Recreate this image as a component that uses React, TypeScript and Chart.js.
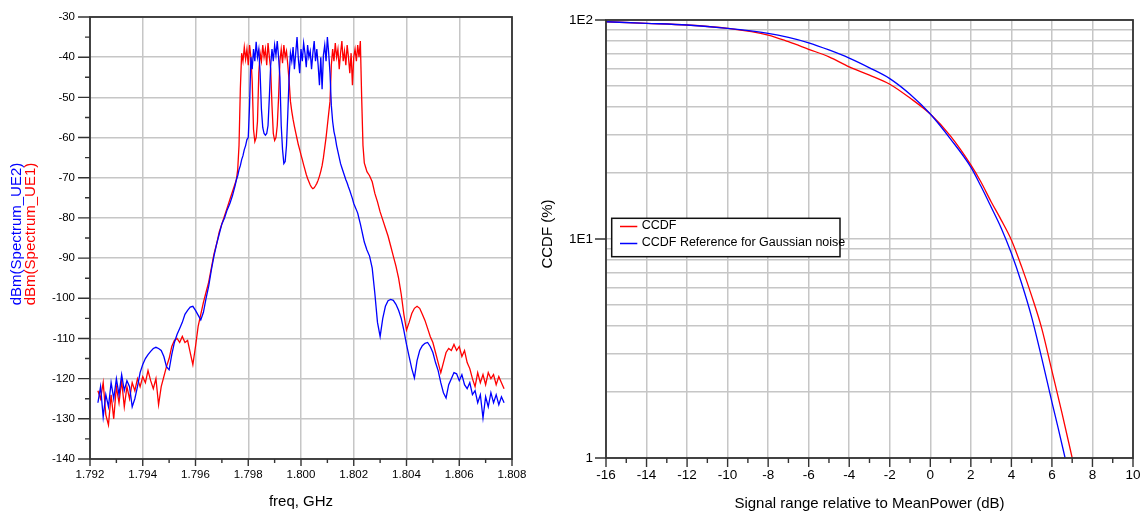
import React, { useEffect, useRef } from "react";
import { Chart, registerables } from "chart.js";

Chart.register(...registerables);

// ---------------- Left chart: spectrum (GHz, dBm) ----------------
const freqLowGHz = [
  1.7923, 1.7924, 1.7925, 1.7926, 1.7927, 1.7928, 1.7929, 1.793, 1.7931, 1.7932,
  1.7933, 1.7934, 1.7935, 1.7936, 1.7937, 1.7938, 1.7939, 1.794, 1.7941, 1.7942,
  1.7943, 1.7944, 1.7945, 1.7946, 1.7947, 1.7948, 1.7949, 1.795, 1.7951, 1.7952,
  1.7953, 1.7954, 1.7955, 1.7956, 1.7957, 1.7958, 1.7959, 1.796, 1.7961, 1.7962,
  1.7963, 1.7964, 1.7965, 1.7966, 1.7967, 1.7968, 1.7969, 1.797, 1.7971, 1.7972,
  1.7973, 1.7974,
];
const freqBandGHz = [
  1.7975, 1.79755, 1.7976, 1.79765, 1.7977, 1.79775, 1.7978, 1.79785, 1.7979, 1.79795,
  1.798, 1.79805, 1.7981, 1.79815, 1.7982, 1.79825, 1.7983, 1.79835, 1.7984, 1.79845,
  1.7985, 1.79855, 1.7986, 1.79865, 1.7987, 1.79875, 1.7988, 1.79885, 1.7989, 1.79895,
  1.799, 1.79905, 1.7991, 1.79915, 1.7992, 1.79925, 1.7993, 1.79935, 1.7994, 1.79945,
  1.7995, 1.79955, 1.7996, 1.79965, 1.7997, 1.79975, 1.7998, 1.79985, 1.7999, 1.79995,
  1.8, 1.80005, 1.8001, 1.80015, 1.8002, 1.80025, 1.8003, 1.80035, 1.8004, 1.80045,
  1.8005, 1.80055, 1.8006, 1.80065, 1.8007, 1.80075, 1.8008, 1.80085, 1.8009, 1.80095,
  1.801, 1.80105, 1.8011, 1.80115, 1.8012, 1.80125, 1.8013, 1.80135, 1.8014, 1.80145,
  1.8015, 1.80155, 1.8016, 1.80165, 1.8017, 1.80175, 1.8018, 1.80185, 1.8019, 1.80195,
  1.802, 1.80205, 1.8021, 1.80215, 1.8022, 1.80225, 1.8023, 1.80235, 1.8024, 1.80245,
  1.8025,
];
const freqHighGHz = [
  1.8026, 1.8027, 1.8028, 1.8029, 1.803, 1.8031, 1.8032, 1.8033, 1.8034, 1.8035,
  1.8036, 1.8037, 1.8038, 1.8039, 1.804, 1.8041, 1.8042, 1.8043, 1.8044, 1.8045,
  1.8046, 1.8047, 1.8048, 1.8049, 1.805, 1.8051, 1.8052, 1.8053, 1.8054, 1.8055,
  1.8056, 1.8057, 1.8058, 1.8059, 1.806, 1.8061, 1.8062, 1.8063, 1.8064, 1.8065,
  1.8066, 1.8067, 1.8068, 1.8069, 1.807, 1.8071, 1.8072, 1.8073, 1.8074, 1.8075,
  1.8076, 1.8077,
];

const ue1LowDbm = [
  -123, -125, -121, -129, -131.5, -124, -130, -122, -126, -120.5,
  -127, -122, -125, -121, -123, -120, -122, -119.5, -121, -118,
  -120.5, -122.5, -120, -126.5, -122, -119.5, -117, -115, -112, -110.5,
  -110, -111, -109.5, -111, -110.5, -113.5, -116.5, -112, -107, -104,
  -101, -98.5, -96, -92.5, -89, -86.5, -83.5, -81.5, -79.5, -77.5,
  -75.5, -73.5,
];
const ue1BandDbm = [
  -71.5, -70.5, -68, -62, -48, -39, -41, -37.5, -40.5, -38,
  -42, -37, -40, -46, -58, -61, -60, -56, -44, -39,
  -41, -37, -40, -38, -42, -36.5, -40, -43, -52, -59,
  -60.7, -60, -57, -50, -41, -38, -41.5, -37, -40, -38.5,
  -42, -46, -51, -53.5, -55.5, -57.2, -58.8, -60.3, -61.8, -63,
  -64.3, -65.5, -66.8, -68, -69.2, -70.2, -71, -71.8, -72.4, -72.7,
  -72.5, -72, -71.4, -70.6, -69.6, -68.4, -67, -65, -62.5, -60,
  -57, -54, -51, -42, -38, -41, -36.5, -40, -38, -43,
  -39, -36, -41, -38.5, -42, -37, -40, -44, -39, -47,
  -40, -38, -41, -37, -40, -36, -50, -62, -66.3, -67.4,
  -68.5,
];
const ue1HighDbm = [
  -69.5, -71, -73.9, -76, -78.5, -80.5, -82.5, -84.5, -87, -89.5,
  -92, -95, -99, -104, -107.9, -106, -103.8, -102.5, -102, -102.5,
  -104, -105.5, -107.5, -109.5, -111, -113.5, -116, -118.5, -116, -113.5,
  -112.5, -113, -111.5, -113, -112, -114.5, -113, -116, -117.5, -120,
  -122, -118.5, -121, -119, -121.5, -118.5, -120, -119, -121.5, -119.5,
  -121, -122.5,
];

const ue2LowDbm = [
  -126, -122, -129.5, -124, -127, -121, -125, -120, -124, -119,
  -123, -120.5, -122, -127, -125, -122, -118.5, -116.5, -115, -114,
  -113.2, -112.5, -112.2, -112.5, -113, -114.5, -117, -117.8, -114, -111,
  -109, -107.5, -106, -104, -103, -102.2, -102, -103, -104.2, -105.4,
  -103.5, -100, -97, -93, -89.5, -86.5, -84, -81.5, -80, -78,
  -76.5, -74.5,
];
const ue2BandDbm = [
  -72, -70.5, -69.5, -68, -67, -65.5, -64.5, -63, -62, -60.5,
  -60, -52, -40, -43, -38, -41, -36.2, -40, -38, -44,
  -53, -57.5, -59, -59.4, -59, -57, -50, -42, -38, -41,
  -37, -39.5, -36, -40, -45, -57, -63, -66.5, -66, -62,
  -54, -45, -39, -41, -37.5, -43, -39, -35, -40.5, -44,
  -38, -41, -36.5, -39, -42.5, -37, -40, -38.5, -43, -39,
  -36, -41, -38, -42, -47, -40, -48, -39.5, -37, -41,
  -35, -39, -44, -52, -56, -58.5, -60, -62, -63.5, -65,
  -66.5, -67.5, -68.5, -69.5, -70.5, -71.3, -72.3, -73.2, -74.2, -75.2,
  -76.4, -77.2, -78, -78.8, -80.2, -81.5, -83, -84.5, -86, -87,
  -88,
];
const ue2HighDbm = [
  -89.5, -92.5, -98.8, -106, -109.5, -105, -102, -100.6, -100.3, -100.5,
  -101.5, -103, -105, -108, -111.5, -114.5, -117.5, -119.8, -115.5, -113,
  -111.8, -111.2, -111, -112, -113.5, -116, -118, -121, -123.5, -124.8,
  -121.5, -120, -118.5, -118.8, -120.5, -119, -121.5, -122.5, -121, -124,
  -123, -126, -124, -129.8, -124.5, -127, -123.5, -126, -124, -126.5,
  -124.5, -126,
];

const freqGHz = [...freqLowGHz, ...freqBandGHz, ...freqHighGHz];
const ue1Dbm = [...ue1LowDbm, ...ue1BandDbm, ...ue1HighDbm];
const ue2Dbm = [...ue2LowDbm, ...ue2BandDbm, ...ue2HighDbm];

const specXTicks = [1.792, 1.794, 1.796, 1.798, 1.8, 1.802, 1.804, 1.806, 1.808];
const specXLabels = ["1.792", "1.794", "1.796", "1.798", "1.800", "1.802", "1.804", "1.806", "1.808"];
const specXMinor = [1.793, 1.795, 1.797, 1.799, 1.801, 1.803, 1.805, 1.807];
const specYTicks = [-140, -130, -120, -110, -100, -90, -80, -70, -60, -50, -40, -30];
const specYLabels = ["-140", "-130", "-120", "-110", "-100", "-90", "-80", "-70", "-60", "-50", "-40", "-30"];
const specYMinor = [-135, -125, -115, -105, -95, -85, -75, -65, -55, -45, -35];

// ---------------- Right chart: CCDF ----------------
const ccdfDb = [-16, -14, -12, -10, -8, -7, -6, -5, -4, -3, -2, -1, 0, 1, 2, 2.5, 3, 3.5, 4, 4.5, 5, 5.5, 6, 6.5, 7];
const ccdfPct = [98.2, 96.6, 94.9, 91.6, 85.4, 79.6, 73.5, 67.9, 61.1, 56, 50.9, 44, 37.2, 29.5, 21.8, 18.2, 14.8, 12.2, 9.9, 7.5, 5.5, 3.9, 2.5, 1.6, 1.0];
const gaussDb = [-16, -14, -12, -10, -8, -7, -6, -5, -4, -3, -2, -1, 0, 1, 2, 2.5, 3, 3.5, 4, 4.5, 5, 5.5, 6, 6.3, 6.65];
const gaussPct = [98.2, 96.6, 94.9, 91.6, 86.9, 83.3, 78.7, 73, 67, 60.5, 54, 45.8, 37.2, 28.6, 21.3, 17.4, 14, 11.2, 8.6, 6.3, 4.4, 2.85, 1.8, 1.38, 1.0];

const ccdfXTicks = [-16, -14, -12, -10, -8, -6, -4, -2, 0, 2, 4, 6, 8, 10];
const ccdfXLabels = ["-16", "-14", "-12", "-10", "-8", "-6", "-4", "-2", "0", "2", "4", "6", "8", "10"];
const ccdfXMinor = [-15, -13, -11, -9, -7, -5, -3, -1, 1, 3, 5, 7, 9];
const ccdfYGrid = [1, 2, 3, 4, 5, 6, 7, 8, 9, 10, 20, 30, 40, 50, 60, 70, 80, 90, 100];
const ccdfYTicks = [1, 10, 100];
const ccdfYLabels = ["1", "1E1", "1E2"];

const FONT = '"Liberation Sans", Arial, Helvetica, sans-serif';
const GRID = "#c6c6c6";
const FRAME = "#333333";

type Deco = {
  xMajor: number[]; xLabels: string[]; xMinor: number[]; xMajorLen: number; xMinorLen: number; xLabelY: number;
  yMajor: number[]; yLabels: string[]; yMinor: number[]; yMajorLen: number; yMinorLen: number; yLabelGap: number;
  tickFont: string;
  extra: (chart: any) => void;
};

function decoPlugin(id: string, d: Deco) {
  return {
    id,
    afterDraw(chart: any) {
      const { ctx, chartArea: a, scales } = chart;
      const xs = scales.x;
      const ys = scales.y;
      ctx.save();
      ctx.strokeStyle = FRAME;
      ctx.lineWidth = 1.8;
      ctx.strokeRect(a.left, a.top, a.right - a.left, a.bottom - a.top);
      ctx.lineWidth = 1.4;
      ctx.beginPath();
      d.xMajor.forEach((v) => {
        const p = xs.getPixelForValue(v);
        ctx.moveTo(p, a.bottom);
        ctx.lineTo(p, a.bottom + d.xMajorLen);
      });
      d.xMinor.forEach((v) => {
        const p = xs.getPixelForValue(v);
        ctx.moveTo(p, a.bottom);
        ctx.lineTo(p, a.bottom + d.xMinorLen);
      });
      d.yMajor.forEach((v) => {
        const p = ys.getPixelForValue(v);
        ctx.moveTo(a.left - d.yMajorLen, p);
        ctx.lineTo(a.left, p);
      });
      d.yMinor.forEach((v) => {
        const p = ys.getPixelForValue(v);
        ctx.moveTo(a.left - d.yMinorLen, p);
        ctx.lineTo(a.left, p);
      });
      ctx.stroke();
      ctx.fillStyle = "#000";
      ctx.font = d.tickFont;
      ctx.textBaseline = "middle";
      ctx.textAlign = "center";
      d.xMajor.forEach((v, i) => {
        ctx.fillText(d.xLabels[i], xs.getPixelForValue(v), d.xLabelY);
      });
      ctx.textAlign = "right";
      d.yMajor.forEach((v, i) => {
        ctx.fillText(d.yLabels[i], a.left - d.yLabelGap, ys.getPixelForValue(v));
      });
      d.extra(chart);
      ctx.restore();
    },
  };
}

function rotatedText(ctx: CanvasRenderingContext2D, text: string, x: number, y: number, color: string, font: string) {
  ctx.save();
  ctx.translate(x, y);
  ctx.rotate(-Math.PI / 2);
  ctx.fillStyle = color;
  ctx.font = font;
  ctx.textAlign = "center";
  ctx.textBaseline = "alphabetic";
  ctx.fillText(text, 0, 0);
  ctx.restore();
}

export default function App() {
  const leftRef = useRef<HTMLCanvasElement | null>(null);
  const rightRef = useRef<HTMLCanvasElement | null>(null);

  useEffect(() => {
    if (!leftRef.current || !rightRef.current) return;

    const specDeco = decoPlugin("specDeco", {
      xMajor: specXTicks, xLabels: specXLabels, xMinor: specXMinor, xMajorLen: 7, xMinorLen: 4, xLabelY: 475,
      yMajor: specYTicks, yLabels: specYLabels, yMinor: specYMinor, yMajorLen: 12, yMinorLen: 5, yLabelGap: 15,
      tickFont: `11.5px ${FONT}`,
      extra: (chart: any) => {
        const { ctx, chartArea: a } = chart;
        ctx.fillStyle = "#000";
        ctx.font = `15px ${FONT}`;
        ctx.textAlign = "center";
        ctx.textBaseline = "alphabetic";
        ctx.fillText("freq, GHz", (a.left + a.right) / 2, 505.5);
        rotatedText(ctx, "dBm(Spectrum_UE2)", 20.5, 234, "#0000ff", `15px ${FONT}`);
        rotatedText(ctx, "dBm(Spectrum_UE1)", 34.5, 234, "#ff0000", `15px ${FONT}`);
      },
    });

    const left = new Chart(leftRef.current, {
      type: "line",
      data: {
        datasets: [
          {
            label: "dBm(Spectrum_UE2)",
            data: freqGHz.map((f, i) => ({ x: f, y: ue2Dbm[i] })),
            borderColor: "#0000ff",
            borderWidth: 1.3,
            pointRadius: 0,
            tension: 0,
          },
          {
            label: "dBm(Spectrum_UE1)",
            data: freqGHz.map((f, i) => ({ x: f, y: ue1Dbm[i] })),
            borderColor: "#ff0000",
            borderWidth: 1.3,
            pointRadius: 0,
            tension: 0,
          },
        ],
      },
      options: {
        animation: false,
        responsive: false,
        devicePixelRatio: 1,
        layout: { padding: { left: 0, top: 17, right: 48, bottom: 0 } },
        plugins: { legend: { display: false }, tooltip: { enabled: false } },
        scales: {
          x: {
            type: "linear",
            min: 1.792,
            max: 1.808,
            afterBuildTicks: (s: any) => { s.ticks = specXTicks.map((v) => ({ value: v })); },
            afterFit: (s: any) => { s.height = 56; },
            ticks: { display: false },
            grid: { color: GRID, lineWidth: 1.5, drawTicks: false },
            border: { display: false },
          },
          y: {
            type: "linear",
            min: -140,
            max: -30,
            afterBuildTicks: (s: any) => { s.ticks = specYTicks.map((v) => ({ value: v })); },
            afterFit: (s: any) => { s.width = 90; },
            ticks: { display: false },
            grid: { color: GRID, lineWidth: 1.5, drawTicks: false },
            border: { display: false },
          },
        },
      } as any,
      plugins: [specDeco],
    });

    const ccdfDeco = decoPlugin("ccdfDeco", {
      xMajor: ccdfXTicks, xLabels: ccdfXLabels, xMinor: ccdfXMinor, xMajorLen: 9, xMinorLen: 5, xLabelY: 475.5,
      yMajor: ccdfYTicks, yLabels: ccdfYLabels, yMinor: [], yMajorLen: 11, yMinorLen: 0, yLabelGap: 13,
      tickFont: `13.5px ${FONT}`,
      extra: (chart: any) => {
        const { ctx, chartArea: a } = chart;
        ctx.fillStyle = "#000";
        ctx.font = `15px ${FONT}`;
        ctx.textAlign = "center";
        ctx.textBaseline = "alphabetic";
        ctx.fillText("Signal range relative to MeanPower (dB)", (a.left + a.right) / 2, 507.5);
        rotatedText(ctx, "CCDF (%)", 21.5, 234, "#000", `15px ${FONT}`);
        const bx = a.left + 5.7;
        const by = 218.3;
        const bw = 228.3;
        const bh = 38.4;
        ctx.fillStyle = "#fff";
        ctx.fillRect(bx, by, bw, bh);
        ctx.strokeStyle = "#111";
        ctx.lineWidth = 1.5;
        ctx.strokeRect(bx, by, bw, bh);
        const items = [
          { t: "CCDF", c: "#ff0000", y: 226.5 },
          { t: "CCDF Reference for Gaussian noise", c: "#0000ff", y: 243.5 },
        ];
        ctx.font = `12.5px ${FONT}`;
        ctx.textAlign = "left";
        ctx.textBaseline = "middle";
        items.forEach((it) => {
          ctx.strokeStyle = it.c;
          ctx.lineWidth = 1.5;
          ctx.beginPath();
          ctx.moveTo(bx + 8.3, it.y);
          ctx.lineTo(bx + 25.6, it.y);
          ctx.stroke();
          ctx.fillStyle = "#000";
          ctx.fillText(it.t, bx + 30, it.y - 1);
        });
      },
    });

    const right = new Chart(rightRef.current, {
      type: "line",
      data: {
        datasets: [
          {
            label: "CCDF Reference for Gaussian noise",
            data: gaussDb.map((x, i) => ({ x, y: gaussPct[i] })),
            borderColor: "#0000ff",
            borderWidth: 1.3,
            pointRadius: 0,
            cubicInterpolationMode: "monotone",
          },
          {
            label: "CCDF",
            data: ccdfDb.map((x, i) => ({ x, y: ccdfPct[i] })),
            borderColor: "#ff0000",
            borderWidth: 1.3,
            pointRadius: 0,
            cubicInterpolationMode: "monotone",
          },
        ],
      },
      options: {
        animation: false,
        responsive: false,
        devicePixelRatio: 1,
        layout: { padding: { left: 0, top: 20, right: 12, bottom: 0 } },
        plugins: { legend: { display: false }, tooltip: { enabled: false } },
        scales: {
          x: {
            type: "linear",
            min: -16,
            max: 10,
            afterBuildTicks: (s: any) => { s.ticks = ccdfXTicks.map((v) => ({ value: v })); },
            afterFit: (s: any) => { s.height = 57; },
            ticks: { display: false },
            grid: { color: GRID, lineWidth: 1.5, drawTicks: false },
            border: { display: false },
          },
          y: {
            type: "logarithmic",
            min: 1,
            max: 100,
            afterBuildTicks: (s: any) => { s.ticks = ccdfYGrid.map((v) => ({ value: v })); },
            afterFit: (s: any) => { s.width = 76; },
            ticks: { display: false },
            grid: { color: GRID, lineWidth: 1.5, drawTicks: false },
            border: { display: false },
          },
        },
      } as any,
      plugins: [ccdfDeco],
    });

    return () => {
      left.destroy();
      right.destroy();
    };
  }, []);

  return (
    <div style={{ position: "fixed", left: 0, top: 0, width: 1145, height: 515, background: "#fff" }}>
      <canvas
        ref={leftRef}
        width={560}
        height={515}
        style={{ position: "absolute", left: 0, top: 0, width: 560, height: 515 }}
      />
      <canvas
        ref={rightRef}
        width={615}
        height={515}
        style={{ position: "absolute", left: 530, top: 0, width: 615, height: 515 }}
      />
    </div>
  );
}
